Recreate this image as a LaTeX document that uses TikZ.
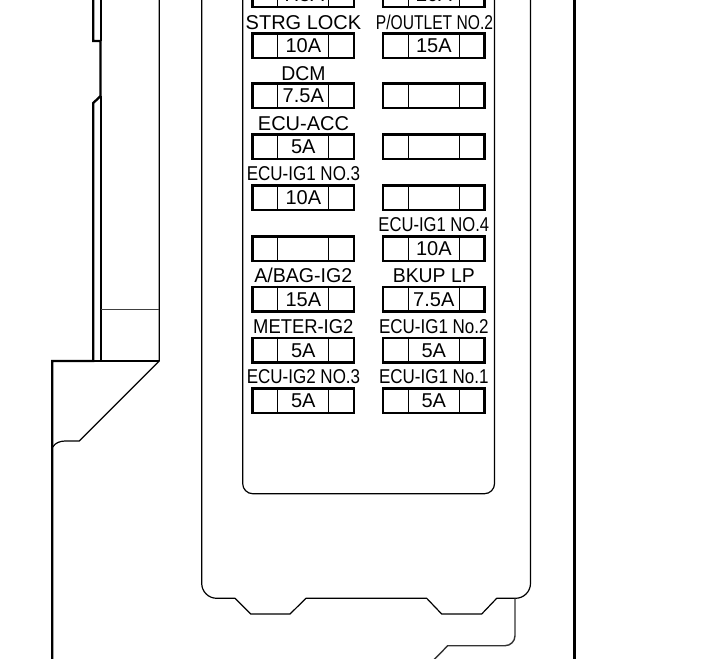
\documentclass[tikz,border=0pt]{standalone}
\usepackage{fontspec}
\setmainfont{Liberation Sans}
\newcommand{\fuselbl}[5]{\node[lbl] (#1) at (#2,#3) {\scalebox{#4}[1]{#5}};}
\newcommand{\fusebox}[4]{%
  \node[fusecell] (#1) at (#2,#3) {#4};
  \draw[divider] ([xshift=-25.5pt]#1.north) -- ([xshift=-25.5pt]#1.south);
  \draw[divider] ([xshift=25.5pt]#1.north) -- ([xshift=25.5pt]#1.south);}
\tikzset{
  lbl/.style={font=\fontsize{20}{20}\selectfont,inner sep=0pt,anchor=center,yshift=-.6pt},
  fusecell/.style={draw=black,line width=2.4pt,minimum width=101.6pt,minimum height=24.6pt,inner sep=0pt,font=\fontsize{20}{20}\selectfont,text height=14.3pt,text depth=0pt,yshift=.3pt},
  divider/.style={line width=1.1pt,black},
  thin body/.style={line width=1.2pt,black,line join=round},
  faint/.style={line width=.9pt,black!75},
  heavy/.style={line width=2.3pt,black,line join=miter},
  tab/.style={line width=1.4pt,black!80,line join=round}
}
\begin{document}
\begin{tikzpicture}[x=1pt,y=-1pt]
\useasboundingbox (0,0) rectangle (714,658);
\clip (0,0) rectangle (714,658);
% left wall
\draw[thin body] (101,96) -- (101,361);
\draw[thin body] (101,-5) -- (101,41);
\draw[thin body] (159.3,-5) -- (159.3,361) -- (79.3,441) -- (65,441) .. controls (60,441) and (55,443) .. (52.8,447);
\draw[faint] (101,309) -- (159.3,309);
\draw[thin body] (93.3,361) -- (159.3,361);
\draw[heavy] (93.3,-5) -- (93.3,41) -- (100.5,41) -- (100.5,96) -- (93.3,103) -- (93.3,361) -- (52.3,361) -- (52.3,663);
% right wall
\draw[heavy] (574.5,-5) -- (574.5,663);
% outer housing
\draw[thin body] (201.7,-5) -- (201.7,583.3) .. controls (201.7,591.6) and (208.4,598.3) .. (216.7,598.3) -- (235,598.3) -- (250.7,614) -- (290,614) -- (306,598.3) -- (426.7,598.3) -- (441.7,614) -- (481.7,614) -- (496.7,598.3) -- (515.5,598.3) .. controls (523.8,598.3) and (530.5,591.6) .. (530.5,583.3) -- (530.5,-5);
% inner panel
\draw[thin body] (242.7,-5) -- (242.7,483.7) .. controls (242.7,489.2) and (247.2,493.7) .. (252.7,493.7) -- (484.5,493.7) .. controls (490,493.7) and (494.5,489.2) .. (494.5,483.7) -- (494.5,-5);
% tab
\draw[tab] (515,598.3) -- (515,635.7) .. controls (515,641.2) and (510.5,645.7) .. (505,645.7) -- (447.7,645.7) -- (433.7,660);
% fuses left
\fusebox{fa}{303.3}{-5}{7.5A}
\fuselbl{la}{303.5}{22}{1}{STRG LOCK}
\fusebox{fb}{303.3}{46}{10A}
\fuselbl{lc}{303.5}{73}{.97}{DCM}
\fusebox{fc}{303.3}{96}{7.5A}
\fuselbl{ld}{303.5}{123}{1}{ECU-ACC}
\fusebox{fd}{303.3}{147}{5A}
\fuselbl{le}{303.5}{173}{.85}{ECU-IG1 NO.3}
\fusebox{fe}{303.3}{198}{10A}
\fusebox{ff}{303.3}{249}{}
\fuselbl{lg}{303.3}{275}{.98}{A/BAG-IG2}
\fusebox{fg}{303.3}{299.5}{15A}
\fuselbl{lh}{303.3}{326}{.92}{METER-IG2}
\fusebox{fh}{303.3}{350.5}{5A}
\fuselbl{li}{303.5}{376}{.85}{ECU-IG2 NO.3}
\fusebox{fi}{303.3}{401}{5A}
% fuses right
\fusebox{ra}{433.8}{-5}{20A}
\fuselbl{ma}{434.5}{22}{.78}{P/OUTLET NO.2}
\fusebox{rb}{433.8}{46}{15A}
\fusebox{rc}{433.8}{96}{}
\fusebox{rd}{433.8}{147}{}
\fusebox{re}{433.8}{198}{}
\fuselbl{mf}{433.8}{224.5}{.83}{ECU-IG1 NO.4}
\fusebox{rf}{433.8}{249}{10A}
\fuselbl{mg}{433.8}{275}{.97}{BKUP LP}
\fusebox{rg}{433.8}{299.5}{7.5A}
\fuselbl{mh}{433.8}{326}{.85}{ECU-IG1 No.2}
\fusebox{rh}{433.8}{350.5}{5A}
\fuselbl{mi}{433.8}{376}{.85}{ECU-IG1 No.1}
\fusebox{ri}{433.8}{401}{5A}
\end{tikzpicture}
\end{document}
